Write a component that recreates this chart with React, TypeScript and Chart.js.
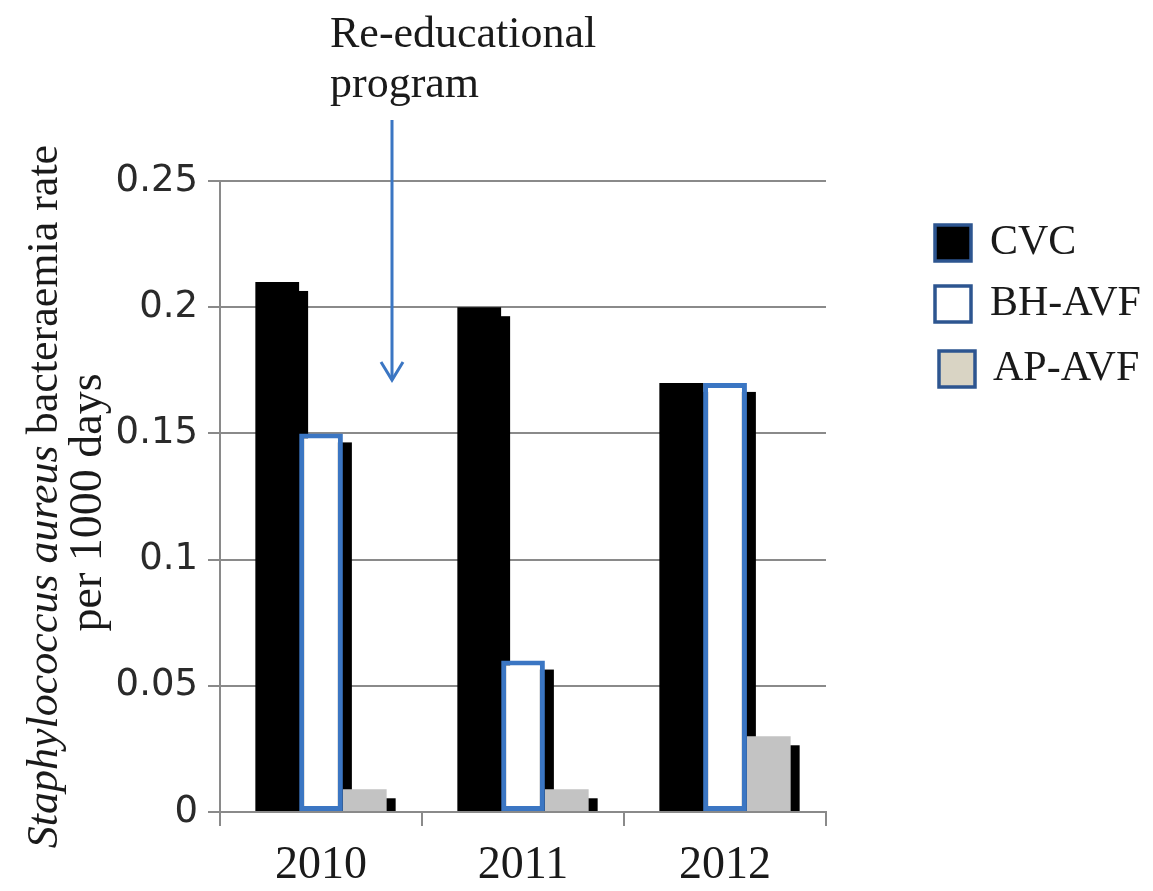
import React, { useEffect, useRef } from "react";
import { Chart, registerables } from "chart.js";

Chart.register(...registerables);

const categories = ["2010", "2011", "2012"];
const cvcValues = [0.21, 0.2, 0.17];
const bhAvfValues = [0.15, 0.06, 0.17];
const apAvfValues = [0.009, 0.009, 0.03];
const seriesNames = ["CVC", "BH-AVF", "AP-AVF"];
const yTickValues = [0, 0.05, 0.1, 0.15, 0.2, 0.25];
const annotationLines = ["Re-educational", "program"];
const yTitleItalic = "Staphylococcus aureus";
const yTitleRest = " bacteraemia rate";
const yTitleLine2 = "per 1000 days";

const SERIF = "'Liberation Serif', 'Times New Roman', serif";
const SANS = "'DejaVu Sans', Verdana, sans-serif";
const GRID = "#8a8a8a";
const TEXT = "#1a1a1a";
const BLUE = "#3b76c3";
const LEGEND_BORDER = "#2d5590";
const barColors = ["#000000", "#ffffff", "#c3c3c3"];
const legendFills = ["#000000", "#ffffff", "#d9d4c4"];

const SHADOW_DX = 9;
const SHADOW_DY = 9;

const shadowPlugin = {
  id: "barShadow",
  beforeDatasetsDraw(chart: any) {
    const { ctx, chartArea } = chart;
    ctx.save();
    ctx.beginPath();
    ctx.rect(chartArea.left, chartArea.top, chartArea.right - chartArea.left, chartArea.bottom - chartArea.top);
    ctx.clip();
    ctx.fillStyle = "#000";
    chart.data.datasets.forEach((_: any, i: number) => {
      const meta = chart.getDatasetMeta(i);
      meta.data.forEach((bar: any) => {
        const { x, y, base, width } = bar.getProps(["x", "y", "base", "width"], true);
        ctx.fillRect(x - width / 2 + SHADOW_DX, y + SHADOW_DY, width, base - y - SHADOW_DY);
      });
    });
    ctx.restore();
  },
};

const decorPlugin = {
  id: "decor",
  afterDraw(chart: any) {
    const { ctx, chartArea } = chart;
    ctx.save();
    // annotation text
    ctx.fillStyle = TEXT;
    ctx.font = `44px ${SERIF}`;
    ctx.textAlign = "left";
    ctx.textBaseline = "middle";
    ctx.fillText(annotationLines[0], 322, 27);
    ctx.fillText(annotationLines[1], 322, 77);
    // arrow
    const ax = 384;
    const y0 = 112;
    const y1 = 372;
    ctx.strokeStyle = BLUE;
    ctx.lineWidth = 3;
    ctx.beginPath();
    ctx.moveTo(ax, y0);
    ctx.lineTo(ax, y1);
    ctx.stroke();
    ctx.beginPath();
    ctx.moveTo(ax - 11, y1 - 18);
    ctx.lineTo(ax, y1);
    ctx.lineTo(ax + 11, y1 - 18);
    ctx.stroke();

    // y title
    const yc = (chartArea.top + chartArea.bottom) / 2;
    ctx.save();
    ctx.translate(37, yc);
    ctx.rotate(-Math.PI / 2);
    ctx.textBaseline = "middle";
    ctx.textAlign = "left";
    ctx.font = `italic 44px ${SERIF}`;
    const w1 = ctx.measureText(yTitleItalic).width;
    ctx.font = `44px ${SERIF}`;
    const w2 = ctx.measureText(yTitleRest).width;
    const start = -(w1 + w2) / 2;
    ctx.font = `italic 44px ${SERIF}`;
    ctx.fillText(yTitleItalic, start, 0);
    ctx.font = `44px ${SERIF}`;
    ctx.fillText(yTitleRest, start + w1, 0);
    ctx.restore();
    ctx.save();
    ctx.translate(81, yc + 6);
    ctx.rotate(-Math.PI / 2);
    ctx.textBaseline = "middle";
    ctx.textAlign = "center";
    ctx.font = `46px ${SERIF}`;
    ctx.fillText(yTitleLine2, 0, 0);
    ctx.restore();

    // legend
    const legendY = [235, 296, 361];
    const legendDx = [0, 0, 4];
    const box = 36;
    seriesNames.forEach((name, i) => {
      const cy = legendY[i];
      const bx = 927 + legendDx[i];
      ctx.fillStyle = legendFills[i];
      ctx.fillRect(bx, cy - box / 2, box, box);
      ctx.strokeStyle = LEGEND_BORDER;
      ctx.lineWidth = 3.5;
      ctx.strokeRect(bx, cy - box / 2, box, box);
      ctx.fillStyle = TEXT;
      ctx.font = `42px ${SERIF}`;
      ctx.textAlign = "left";
      ctx.textBaseline = "middle";
      ctx.fillText(name, 982 + legendDx[i] * 0.75, cy);
    });
    ctx.restore();
  },
};

export default function App() {
  const canvasRef = useRef<HTMLCanvasElement | null>(null);

  useEffect(() => {
    if (!canvasRef.current) return;
    const seriesValues = [cvcValues, bhAvfValues, apAvfValues];
    const chart = new Chart(canvasRef.current, {
      type: "bar",
      data: {
        labels: categories,
        datasets: seriesNames.map((name, i) => ({
          label: name,
          data: seriesValues[i],
          backgroundColor: barColors[i],
          borderColor: i === 1 ? BLUE : barColors[i],
          borderWidth: i === 1 ? 5 : 0,
          borderSkipped: false,
          barPercentage: 1,
          categoryPercentage: 0.65,
        })),
      },
      options: {
        animation: false,
        responsive: true,
        maintainAspectRatio: false,
        layout: { padding: { top: 173, right: 319, bottom: 0, left: 0 } },
        plugins: {
          legend: { display: false },
          tooltip: { enabled: false },
        },
        scales: {
          x: {
            grid: {
              offset: true,
              drawOnChartArea: false,
              drawTicks: true,
              tickLength: 14,
              color: GRID,
              lineWidth: 2,
            },
            border: { display: true, color: GRID, width: 2 },
            ticks: {
              font: { family: SERIF, size: 46 },
              color: TEXT,
              padding: 12,
            },
            afterFit: (s: any) => {
              s.height = 71;
            },
          },
          y: {
            min: 0,
            max: 0.25,
            afterBuildTicks: (s: any) => {
              s.ticks = yTickValues.map((v) => ({ value: v }));
            },
            ticks: {
              font: { family: SANS, size: 37 },
              color: "#2a2a2a",
              padding: 10,
              callback: (v: any) => String(Number(Number(v).toFixed(2))),
            },
            grid: { color: GRID, lineWidth: 2, tickLength: 12 },
            border: { display: true, color: GRID, width: 2 },
            afterFit: (s: any) => {
              s.width = 212;
            },
          },
        },
      },
      plugins: [shadowPlugin, decorPlugin],
    });
    return () => chart.destroy();
  }, []);

  return (
    <div style={{ width: 1137, height: 875, position: "relative" }}>
      <canvas ref={canvasRef} />
    </div>
  );
}
